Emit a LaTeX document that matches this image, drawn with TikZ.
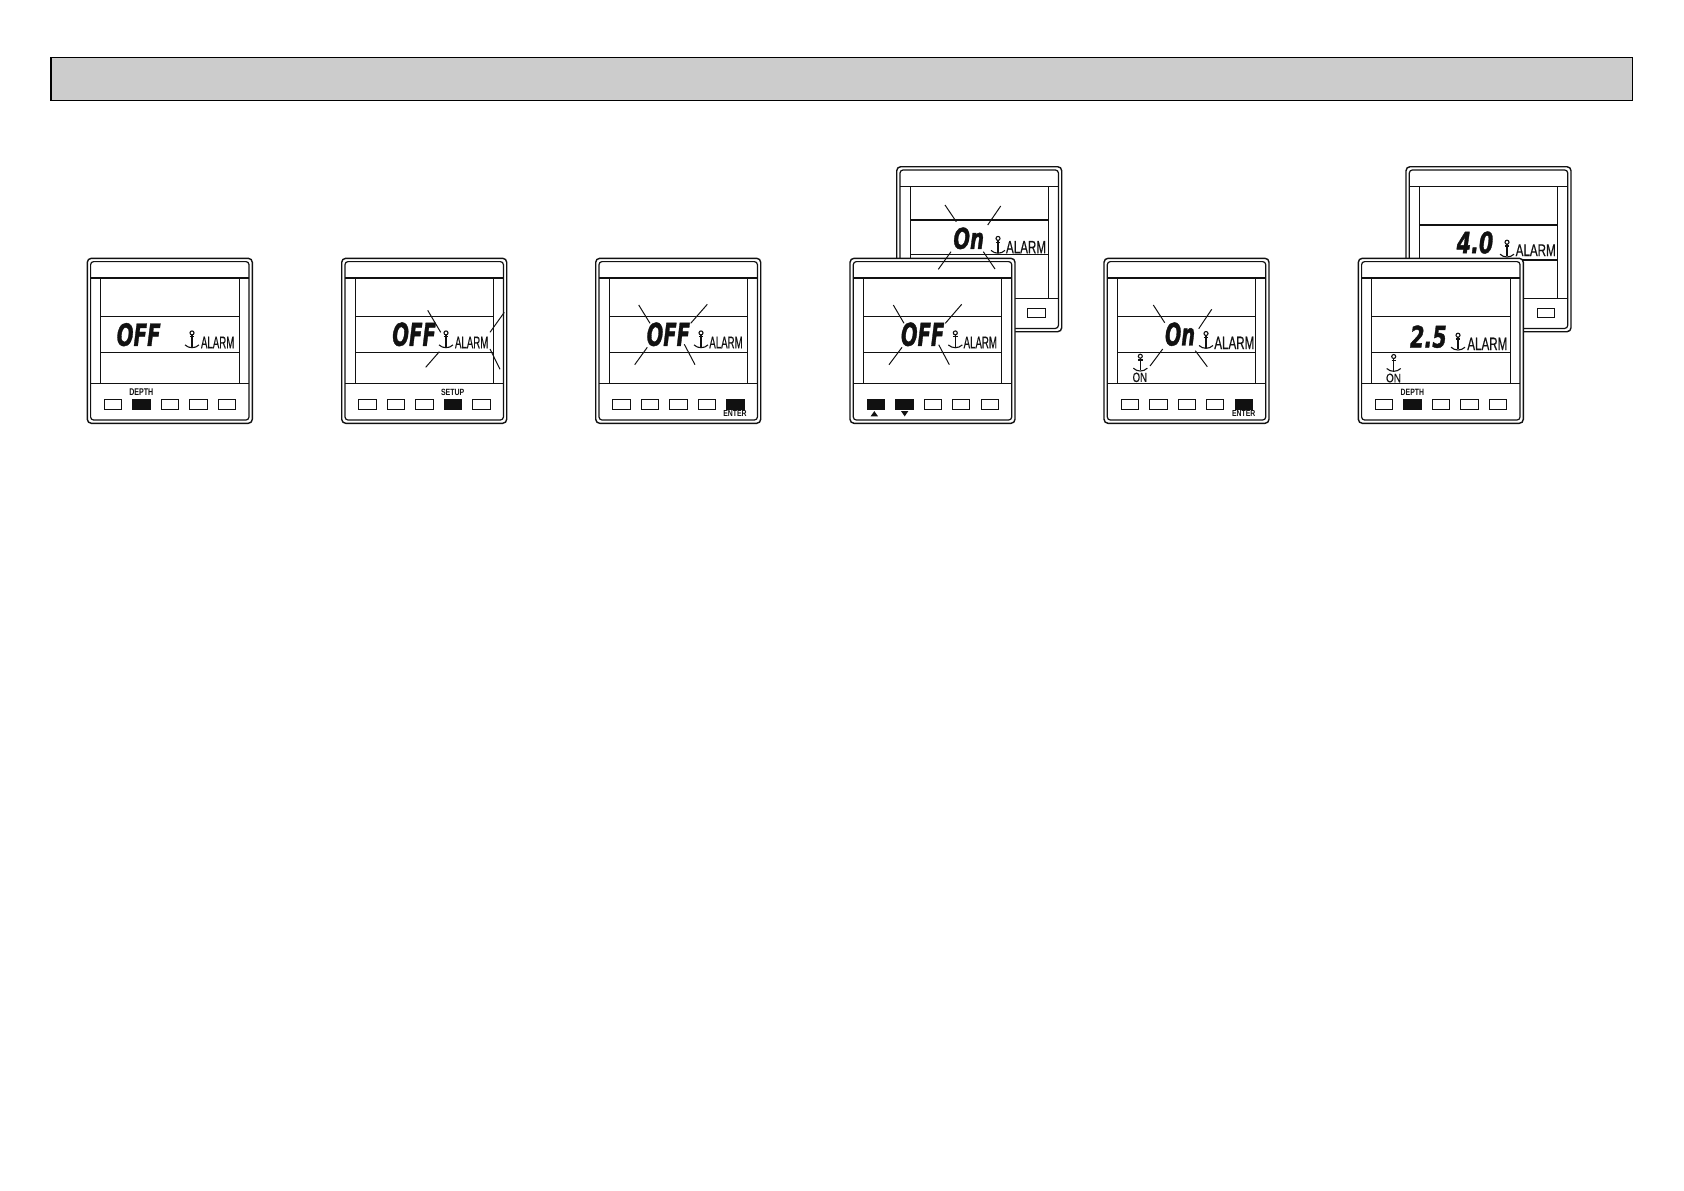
\documentclass[tikz,border=0pt]{standalone}
\usepackage{xcolor}
\usepackage{fontspec}
\usepackage{tikz}
\usetikzlibrary{calc}
\setmainfont{Liberation Sans}
\newfontfamily\lcdfont{DejaVu Sans}[BoldItalicFeatures={FakeBold=1.5}]
\newfontfamily\alarmfont{Liberation Sans}[FakeBold=0.5]
\definecolor{headergray}{HTML}{CCCCCC}
\definecolor{ink}{HTML}{111111}
\tikzset{
  frame/.style={
    rectangle, rounded corners=2pt, draw=ink, line width=0.7pt, fill=white,
    minimum width=82.5pt, minimum height=82.5pt, inner sep=0pt, outer sep=0pt,
  },
  innerframe/.style={
    rectangle, rounded corners=1.5pt, draw=ink, line width=0.6pt,
    minimum width=79.2pt, minimum height=79.2pt, inner sep=0pt, outer sep=0pt,
  },
  btn/.style={
    rectangle, draw=ink, line width=0.5pt, fill=white,
    minimum width=8.7pt, minimum height=4.7pt, inner sep=0pt, outer sep=0pt,
  },
  rule/.style={draw=ink, line width=0.6pt},
  ray/.style={draw=ink, line width=0.5pt},
  txt/.style={inner sep=0pt, outer sep=0pt, text=ink},
  header/.style={
    rectangle, draw=black, line width=0.5pt, fill=headergray,
    minimum width=791pt, minimum height=21.3pt, inner sep=0pt, outer sep=0pt,
  },
}

% box of a display: name, left, top, first rule, second rule, lower rule, buttons
\newcommand{\panel}[7]{
  \node[frame, anchor=north west] (#1) at (#2,#3) {};
  \node[innerframe] (#1in) at (#1.center) {};
  \begin{scope}[shift={(#2,#3)}]
    \draw[rule] (3.3,#6) -- (161.7,#6);
    \draw[rule] (3.3,19.6) -- (161.7,19.6);
    \draw[rule] (13.4,19.6) -- (13.4,#6);
    \draw[rule] (151.8,19.6) -- (151.8,#6);
    \draw[rule] (13.4,#4) -- (151.8,#4);
    \draw[rule] (13.4,#5) -- (151.8,#5);
    \foreach \i/\bx in #7
      \node[btn] (#1b\i) at (\bx,146) {};
  \end{scope}
}
\newcommand{\allbtns}{1/25.7,2/54.3,3/82.7,4/111,5/139.7}
\newcommand{\lastbtn}{5/139.7}
% text squeezed into a box: name, font, left, right, top, bottom, text
\newcommand{\fitted}[7]{
  \pgfmathsetlengthmacro{\fitw}{(#4-#3)*0.5pt}
  \pgfmathsetlengthmacro{\fith}{(#6-#5)*0.5pt}
  \node[txt] (#1) at ({(#3+#4)/2},{(#5+#6)/2}) {\resizebox{\fitw}{\fith}{#2#7}};
}
% anchor sign: left, top
\newcommand{\anchorsign}[2]{
  \begin{scope}[shift={(#1,#2)}, line width=0.55pt, draw=ink]
    \draw (7,2.2) circle[radius=2];
    \draw (7,4.2) -- (7,16.4);
    \draw (4.8,6) -- (9.2,6);
    \draw (0,14.2) .. controls (2,16.2) and (4.5,16.9) .. (7,17)
      .. controls (9.5,16.9) and (12,16.2) .. (14,14.2);
  \end{scope}
}
\newcommand{\pressed}[1]{\fill[ink] (#1.north west) rectangle (#1.south east);}
\newcommand{\lcdbig}{\lcdfont\bfseries\itshape}
\newcommand{\smallbold}{\bfseries}

\begin{document}
\begin{tikzpicture}[x=0.5pt, y=-0.5pt]
  \path[fill=white, use as bounding box] (0,0) rectangle (1684,1190);

  \node[header, anchor=north west] (title) at (50.5,57.5) {};
  \draw[black, line width=1pt] (title.north west) -- (title.south west);

  % first display
  \panel{p1}{87.3}{258.3}{58.4}{94}{125.4}{\allbtns}
  \pressed{p1b2}
  \begin{scope}[shift={(87.3,258.3)}]
    \fitted{p1val}{\lcdbig}{29.4}{73.4}{65}{87.7}{OFF}
    \anchorsign{97.7}{72.4}
    \fitted{p1alarm}{\alarmfont}{113.7}{147}{78.4}{90}{ALARM}
    \fitted{p1key}{\smallbold}{42}{66}{130.7}{137.4}{DEPTH}
  \end{scope}

  % second display
  \panel{p2}{341.7}{258.3}{58.4}{94}{125.4}{\allbtns}
  \pressed{p2b4}
  \begin{scope}[shift={(341.7,258.3)}]
    \fitted{p2val}{\lcdbig}{50.6}{94.3}{64.4}{87.7}{OFF}
    \anchorsign{97.3}{72.4}
    \fitted{p2alarm}{\alarmfont}{113.3}{146.6}{78.4}{90}{ALARM}
    \fitted{p2key}{\smallbold}{99.3}{122.6}{130.7}{137}{SETUP}
    \draw[ray] (86,52) -- (99,74);
    \draw[ray] (97.6,93.4) -- (84,109);
    \draw[ray] (162.6,54) -- (148.3,74);
    \draw[ray] (148.3,90.7) -- (158.3,111);
  \end{scope}

  % third display
  \panel{p3}{595.7}{258.3}{58.4}{94}{125.4}{\allbtns}
  \pressed{p3b5}
  \begin{scope}[shift={(595.7,258.3)}]
    \fitted{p3val}{\lcdbig}{51}{94.3}{64.4}{87.7}{OFF}
    \anchorsign{98.3}{72.4}
    \fitted{p3alarm}{\alarmfont}{113.6}{147}{78.4}{90}{ALARM}
    \fitted{p3key}{\smallbold}{127.6}{151}{152.4}{158.4}{ENTER}
    \draw[ray] (43,46.7) -- (54.3,65);
    \draw[ray] (111.6,46) -- (95,65);
    \draw[ray] (51.6,89) -- (39,106.4);
    \draw[ray] (88.6,86) -- (99.3,106.4);
  \end{scope}

  % fourth display, behind and in front
  \panel{p4back}{896.7}{166.7}{53.3}{87.7}{131.6}{\lastbtn}
  \begin{scope}[shift={(896.7,166.7)}]
    \fitted{p4backval}{\lcdbig}{56.7}{87.3}{61}{82.3}{On}
    \anchorsign{94.3}{69.5}
    \fitted{p4backalarm}{\alarmfont}{109.3}{149.3}{74.3}{86.6}{ALARM}
  \end{scope}
  \panel{p4}{850}{258.3}{58.4}{94}{125.4}{\allbtns}
  \pressed{p4b1}
  \pressed{p4b2}
  \begin{scope}[shift={(896.7,166.7)}]
    \draw[ray] (48.3,38.3) -- (59.6,55);
    \draw[ray] (104,39.3) -- (91,58.3);
    \draw[ray] (54.3,85) -- (41.6,102.6);
    \draw[ray] (86.6,85) -- (98.3,102.3);
  \end{scope}
  \begin{scope}[shift={(850,258.3)}]
    \fitted{p4val}{\lcdbig}{51}{94.3}{64.4}{87.7}{OFF}
    \anchorsign{98.3}{72.4}
    \fitted{p4alarm}{\alarmfont}{113.6}{147}{78.4}{90}{ALARM}
    \draw[ray] (43.3,46.7) -- (54,65);
    \draw[ray] (111.7,46) -- (95.3,65);
    \draw[ray] (52,89) -- (39,106.4);
    \draw[ray] (88.7,86.4) -- (99.3,106.4);
    \fill[ink] (20.6,158) -- (24.3,152.8) -- (28,158) -- cycle;
    \fill[ink] (51,152.8) -- (58.3,152.8) -- (54.7,158) -- cycle;
  \end{scope}

  % fifth display
  \panel{p5}{1104}{258.3}{58.4}{94}{125.4}{\allbtns}
  \pressed{p5b5}
  \begin{scope}[shift={(1104,258.3)}]
    \fitted{p5val}{\lcdbig}{61}{91}{64.4}{87.4}{On}
    \anchorsign{95}{73}
    \fitted{p5alarm}{\alarmfont}{110.3}{150.3}{78.4}{90.7}{ALARM}
    \anchorsign{29.3}{95.7}
    \fitted{p5on}{\alarmfont}{28.6}{43}{114.4}{123.7}{ON}
    \fitted{p5key}{\smallbold}{128}{151.3}{152.4}{158.4}{ENTER}
    \draw[ray] (49.3,46.7) -- (60.7,64.4);
    \draw[ray] (107.7,51) -- (94.7,70.4);
    \draw[ray] (58.7,90.7) -- (46,107.7);
    \draw[ray] (91.3,92.4) -- (103.3,108.4);
  \end{scope}

  % sixth display, behind and in front
  \panel{p6back}{1406}{166.7}{58.3}{93.3}{131.6}{\lastbtn}
  \begin{scope}[shift={(1406,166.7)}]
    \fitted{p6backval}{\lcdbig}{50.7}{87.3}{65}{86.7}{4.0}
    \anchorsign{94}{73.3}
    \fitted{p6backalarm}{\alarmfont}{109.7}{149.7}{77.7}{89.3}{ALARM}
  \end{scope}
  \panel{p6}{1358.3}{258.3}{58.4}{94}{125.4}{\allbtns}
  \pressed{p6b2}
  \begin{scope}[shift={(1358.3,258.3)}]
    \fitted{p6val}{\lcdbig}{51.7}{88.4}{67.4}{89.4}{2.5}
    \anchorsign{92.7}{74.7}
    \fitted{p6alarm}{\alarmfont}{109}{149}{79.4}{91.7}{ALARM}
    \anchorsign{28.4}{96}
    \fitted{p6on}{\alarmfont}{27.7}{42.7}{115.4}{124}{ON}
    \fitted{p6key}{\smallbold}{42.4}{65.7}{130.7}{137}{DEPTH}
  \end{scope}

\end{tikzpicture}
\end{document}
